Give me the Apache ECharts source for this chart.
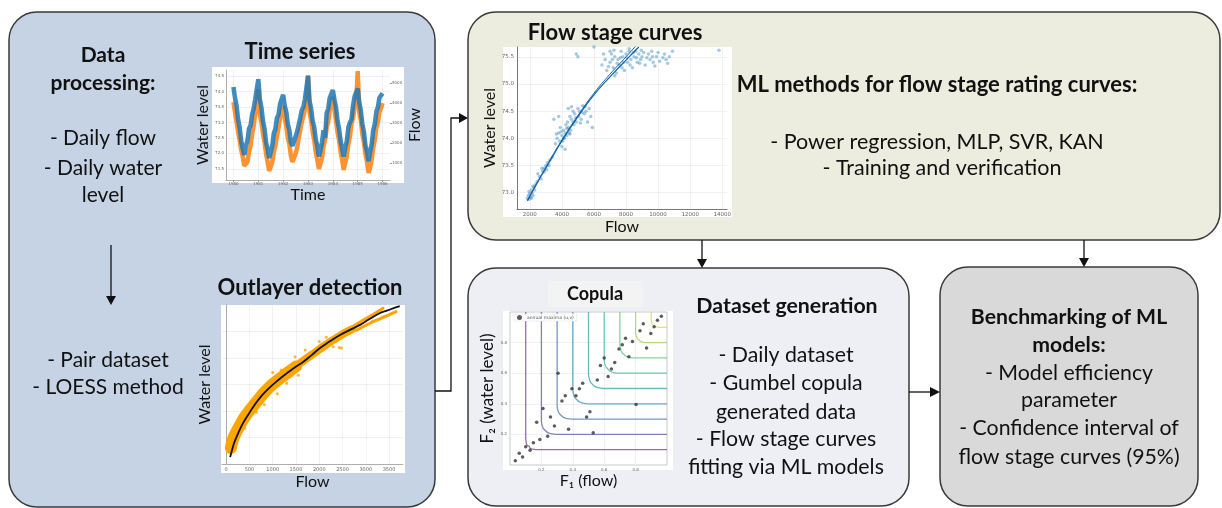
<!DOCTYPE html>
<html>
<head>
<meta charset="utf-8">
<title>Flow stage workflow</title>
<script src="https://cdn.jsdelivr.net/npm/echarts@6/dist/echarts.min.js"></script>
<style>
  html, body { margin: 0; padding: 0; background: #fff; }
  #chart-container { width: 1222px; height: 508px; }
</style>
</head>
<body>
<div id="chart-container"></div>
<script>
// ---- time series (16 samples per year, 1980 -> 1986) ----
const tsStartYear = 1980;
const tsStepsPerYear = 16;
const tsYearTicks = [1980, 1981, 1982, 1983, 1984, 1985, 1986];
const tsLevelTicks = [71.5, 72.0, 72.5, 73.0, 73.5, 74.0, 74.5];
const tsFlowTicks = [1000, 2000, 3000, 4000, 5000];
const tsWaterLevel = [
  74.15, 73.8, 73.55, 73.1, 72.85, 72.4, 72.15, 71.95, 72.25, 72.4, 72.8, 72.9, 73.25, 73.45, 73.75, 73.8,
  74.4, 73.75, 73.5, 73.05, 72.8, 72.35, 72.15, 71.85, 72.05, 72.25, 72.65, 72.8, 73.15, 73.25, 73.6, 73.65,
  73.9, 73.55, 73.35, 72.95, 72.75, 72.35, 72.25, 72.2, 72.55, 72.7, 72.75, 73.15, 73.4, 73.5, 73.75, 73.75,
  74.5, 73.7, 73.45, 73.05, 72.85, 72.45, 72.25, 71.9, 72.1, 72.35, 72.75, 72.5, 73.3, 73.45, 73.8, 73.85,
  74.05, 73.75, 73.5, 73.05, 72.8, 72.4, 72.15, 71.9, 72.2, 72.4, 72.85, 73.0, 73.1, 73.55, 73.85, 73.9,
  74.1, 73.65, 73.4, 72.95, 72.7, 72.25, 72.05, 71.75, 72.05, 72.3, 72.75, 72.95, 73.35, 73.5, 73.8, 73.85,
  73.95
];
const tsFlow = [
  4050, 3550, 3050, 2550, 2150, 1650, 1300, 850, 850, 1050, 1550, 1850, 2450, 2850, 3450, 3850,
  4700, 3450, 3050, 2450, 2050, 1450, 1050, 600, 800, 1050, 1550, 1850, 2350, 2750, 3250, 3550,
  3850, 3250, 2850, 2250, 1950, 1350, 1050, 1050, 1450, 1750, 2250, 2650, 3050, 3350, 3650, 3850,
  5400, 3550, 3150, 2550, 2150, 1550, 1150, 700, 950, 1250, 1850, 2150, 2750, 3050, 3650, 3950,
  4300, 3650, 3150, 2550, 2150, 1550, 1150, 650, 1000, 1350, 1950, 2350, 2950, 3250, 3750, 3950,
  5600, 3550, 3150, 2450, 2050, 1450, 1050, 500, 750, 1150, 1750, 2150, 2750, 3050, 3550, 3750,
  4000
];

// ---- outlier detection (pair dataset + LOESS) ----
const odFlowTicks = [0, 500, 1000, 1500, 2000, 2500, 3000, 3500];
const odLevelTicks = [1, 2, 3, 4, 5];
const loessFlow = [86, 150, 193, 280, 365, 470, 580, 750, 944, 1120, 1309, 1480, 1652, 1830, 2017, 2230, 2446, 2660, 2876, 3090, 3305, 3470, 3627, 3730];
const loessLevel = [0.26, 0.68, 0.9, 1.25, 1.55, 1.85, 2.15, 2.55, 2.9, 3.17, 3.43, 3.65, 3.85, 4.1, 4.38, 4.63, 4.87, 5.06, 5.25, 5.48, 5.7, 5.8, 5.9, 5.96];
const pairLowFlow = [100, 150, 200, 300, 400, 550, 700, 900, 1100, 1300, 1500];
const pairLowLevel = [0.6, 0.95, 1.15, 1.48, 1.78, 2.12, 2.45, 2.85, 3.15, 3.42, 3.68];
const pairMidFlow = [1500, 1700, 1900, 2100, 2300, 2500, 2700];
const pairMidLevel = [3.68, 3.95, 4.2, 4.45, 4.68, 4.9, 5.08];
const pairUpperFlow = [2600, 2850, 3100, 3370];
const pairUpperLevel = [5.05, 5.33, 5.58, 5.88];
const pairLowerFlow = [2800, 3050, 3300, 3500, 3650];
const pairLowerLevel = [5.05, 5.28, 5.48, 5.63, 5.75];
const pairOutliers = [
  [1000, 3.45], [1180, 3.55], [1480, 4.05], [1700, 4.3], [2430, 4.4], [2480, 4.38], [2300, 4.42],
  [650, 1.95], [820, 2.25], [2000, 4.62], [2150, 4.78], [1100, 2.65], [400, 1.35], [1300, 3.05], [760, 2.75],
  [3150, 5.4], [1550, 3.35]
];

// ---- flow stage curves ----
const fsFlowTicks = [2000, 4000, 6000, 8000, 10000, 12000, 14000];
const fsLevelTicks = [73.0, 73.5, 74.0, 74.5, 75.0, 75.5];
const fsObserved = [
  [1850, 72.9], [1900, 72.95], [1950, 72.88], [2000, 72.98], [2050, 72.92], [2100, 73.05], [2150, 73.0],
  [2200, 72.95], [2250, 73.1], [2300, 73.05], [2350, 73.15], [2200, 73.12], [2450, 73.2], [2600, 73.3],
  [2700, 73.25], [2800, 73.4], [2900, 73.45], [3000, 73.5], [3050, 73.42], [3100, 73.55], [3200, 73.5],
  [3250, 73.6], [2500, 73.35], [2750, 73.45], [3400, 73.65], [1950, 73.02], [2100, 72.9], [2900, 73.38],
  [3500, 74.35], [3600, 73.9], [3700, 74.0], [3800, 74.1], [3850, 73.95], [3900, 74.2], [4000, 74.05],
  [4050, 73.95], [4100, 74.15], [4150, 74.0], [4200, 74.1], [4250, 74.25], [4300, 74.05], [4350, 74.3],
  [4400, 74.2], [4450, 74.1], [4500, 74.4], [4550, 74.15], [4600, 74.35], [4700, 74.5], [4750, 74.25],
  [4800, 74.45], [4900, 74.3], [5000, 74.55], [5050, 74.4], [5100, 74.5], [5200, 74.35], [5300, 74.6],
  [5400, 74.45], [5500, 74.5], [5600, 74.3], [5700, 74.55], [5800, 74.4], [4400, 74.55], [4600, 74.58],
  [3800, 74.4], [5900, 74.2], [4000, 73.85], [4200, 73.8], [3950, 74.12], [4100, 74.0], [4300, 74.18],
  [4500, 74.08], [4700, 74.3], [4850, 74.38], [5150, 74.28], [5250, 74.48], [5450, 74.58], [3650, 74.08],
  [4900, 75.55], [5000, 75.5], [6000, 75.68], [6500, 75.35], [6700, 75.45], [6800, 75.25], [7000, 75.4],
  [7100, 75.55], [7200, 75.3], [7300, 75.5], [7400, 75.2], [7500, 75.45], [7600, 75.35], [7700, 75.6],
  [7800, 75.5], [7900, 75.25], [8000, 75.55], [8100, 75.4], [8200, 75.6], [8300, 75.45], [8400, 75.3],
  [8500, 75.5], [8600, 75.6], [8700, 75.4], [8800, 75.55], [8900, 75.45], [9000, 75.5], [9200, 75.35],
  [9400, 75.55], [9500, 75.45], [9700, 75.4], [9900, 75.5], [10100, 75.42], [10300, 75.48], [10500, 75.45],
  [10700, 75.5], [10900, 75.6], [8200, 75.65], [7000, 75.6], [13800, 75.62], [7300, 75.15], [9600, 75.6],
  [6900, 75.32], [7150, 75.45], [7450, 75.38], [7650, 75.48], [7850, 75.4], [8050, 75.48], [8250, 75.35],
  [8450, 75.58], [8650, 75.48], [8850, 75.38], [9100, 75.58], [9300, 75.48], [9800, 75.33], [10000, 75.58],
  [10400, 75.55], [10600, 75.38], [6600, 75.55], [7250, 75.62], [7750, 75.3], [8950, 75.62], [9650, 75.5]
];
const fsFitFlow = [1850, 2500, 3000, 4000, 5000, 6000, 7000, 8000, 8800];
const fsFitLevelA = [72.85, 73.2, 73.45, 73.95, 74.4, 74.8, 75.13, 75.44, 75.68];
const fsFitLevelB = [72.86, 73.21, 73.47, 73.97, 74.42, 74.83, 75.18, 75.5, 75.76];

// ---- copula ----
const cpTicks = [0.2, 0.4, 0.6, 0.8];
const cpLevels = [0.1, 0.2, 0.3, 0.4, 0.5, 0.6, 0.7, 0.8, 0.9];
const cpColors = ['#7a4a9a', '#6466a8', '#5380b2', '#4a95b6', '#45a9b0', '#4cbaa0', '#6cc785', '#a0d362', '#dcdf45'];
const cpContours = [
  [[0.1, 1], [0.1, 0.18], [0.1035, 0.145], [0.11, 0.127], [0.1224, 0.1224], [0.127, 0.11], [0.145, 0.1035], [0.18, 0.1], [1, 0.1]],
  [[0.2, 1], [0.2, 0.29], [0.2045, 0.259], [0.213, 0.238], [0.2252, 0.2252], [0.238, 0.213], [0.259, 0.2045], [0.29, 0.2], [1, 0.2]],
  [[0.3, 1], [0.3, 0.39], [0.3045, 0.359], [0.313, 0.338], [0.3252, 0.3252], [0.338, 0.313], [0.359, 0.3045], [0.39, 0.3], [1, 0.3]],
  [[0.4, 1], [0.4, 0.495], [0.405, 0.462], [0.414, 0.44], [0.4266, 0.4266], [0.44, 0.414], [0.462, 0.405], [0.495, 0.4], [1, 0.4]],
  [[0.5, 1], [0.5, 0.595], [0.505, 0.562], [0.514, 0.54], [0.5266, 0.5266], [0.54, 0.514], [0.562, 0.505], [0.595, 0.5], [1, 0.5]],
  [[0.6, 1], [0.6, 0.69], [0.6045, 0.659], [0.613, 0.638], [0.6252, 0.6252], [0.638, 0.613], [0.659, 0.6045], [0.69, 0.6], [1, 0.6]],
  [[0.7, 1], [0.7, 0.785], [0.7043, 0.756], [0.712, 0.736], [0.7238, 0.7238], [0.736, 0.712], [0.756, 0.7043], [0.785, 0.7], [1, 0.7]],
  [[0.8, 1], [0.8, 0.87], [0.8035, 0.8455], [0.81, 0.829], [0.8196, 0.8196], [0.829, 0.81], [0.8455, 0.8035], [0.87, 0.8], [1, 0.8]],
  [[0.9, 1], [0.9, 0.95], [0.9025, 0.9325], [0.907, 0.921], [0.914, 0.914], [0.921, 0.907], [0.9325, 0.9025], [0.95, 0.9], [1, 0.9]]
];
const cpAnnualMaxima = [
  [0.034, 0.028], [0.059, 0.076], [0.08, 0.052], [0.10, 0.12], [0.128, 0.097], [0.149, 0.145], [0.17, 0.28],
  [0.19, 0.167], [0.21, 0.37], [0.24, 0.188], [0.258, 0.314], [0.283, 0.255], [0.306, 0.60], [0.331, 0.418],
  [0.352, 0.452], [0.373, 0.234], [0.394, 0.498], [0.42, 0.452], [0.442, 0.498], [0.463, 0.535], [0.488, 0.314],
  [0.509, 0.348], [0.53, 0.21], [0.556, 0.556], [0.576, 0.65], [0.60, 0.70], [0.625, 0.578], [0.646, 0.628],
  [0.667, 0.67], [0.694, 0.758], [0.715, 0.786], [0.736, 0.829], [0.757, 0.708], [0.78, 0.807], [0.803, 0.396],
  [0.828, 0.877], [0.849, 0.924], [0.87, 0.764], [0.897, 0.859], [0.918, 0.903], [0.939, 0.946], [0.964, 0.972]
];

const FONT = 'Lato, "Open Sans", sans-serif';

document.addEventListener('DOMContentLoaded', () => {
  const chart = echarts.init(document.getElementById('chart-container'), null, { renderer: 'canvas' });

  const zip = (xs, ys) => xs.map((x, i) => [x, ys[i]]);
  const tsPoints = vals => vals.map((v, i) => [tsStartYear + i / tsStepsPerYear, v]);
  const plain = v => String(v);

  const tiny = { fontSize: 5, color: '#666', fontFamily: 'DejaVu Sans' };
  const faintSplit = { show: true, lineStyle: { color: '#e8e8e8', width: 0.6 } };
  const greyLine = { show: true, lineStyle: { color: '#999', width: 0.8 } };
  const axisName = { fontSize: 16, color: '#111', fontFamily: FONT };

  // boxes, white chart panels, arrows and text blocks
  const box = (x, y, w, h, fill) => ({
    type: 'rect', z: -20, shape: { x, y, width: w, height: h, r: 28 },
    style: { fill, stroke: '#3a3a3a', lineWidth: 1.5 }
  });
  const panel = (x, y, w, h, fill) => ({
    type: 'rect', z: -10, shape: { x, y, width: w, height: h },
    style: { fill: fill || '#fff' }
  });
  const txt = (x, y, text, size, bold) => ({
    type: 'text', z: 20, x, y,
    style: {
      text, fill: '#111', fontSize: size, fontWeight: bold ? 'bold' : 'normal',
      fontFamily: FONT, align: 'center', verticalAlign: 'middle'
    }
  });
  const line = pts => ({
    type: 'polyline', z: 20, shape: { points: pts },
    style: { stroke: '#111', lineWidth: 1.3, fill: null }
  });
  const head = pts => ({ type: 'polygon', z: 20, shape: { points: pts }, style: { fill: '#111' } });

  const graphics = [
    box(9, 12, 426, 495, '#C5D3E5'),
    box(468, 12, 752, 228, '#ECECDF'),
    box(468, 268, 441, 238, '#EEEEF5'),
    box(940, 267, 258, 239, '#D9D9D9'),
    panel(212, 67, 192, 116),
    panel(221, 305, 184, 168),
    panel(503, 47, 229, 170),
    panel(503, 311, 170, 159),
    panel(548, 281, 95, 26, '#F3F3F3'),

    line([[111, 245], [111, 298]]), head([[106, 296], [116, 296], [111, 305]]),
    line([[435, 391], [451, 391], [451, 118], [460, 118]]), head([[459, 113], [459, 123], [468, 118]]),
    line([[702, 240], [702, 260]]), head([[697, 259], [707, 259], [702, 268]]),
    line([[1084, 240], [1084, 259]]), head([[1079, 258], [1089, 258], [1084, 267]]),
    line([[909, 392], [931, 392]]), head([[930, 387], [930, 397], [940, 392]]),

    txt(103, 55, 'Data', 21, true),
    txt(103, 83, 'processing:', 21, true),
    txt(103, 138, '- Daily flow', 21),
    txt(103, 168, '- Daily water', 21),
    txt(103, 195, 'level', 21),
    txt(108, 360, '- Pair dataset', 21),
    txt(108, 387, '- LOESS method', 21),
    txt(300, 52, 'Time series', 22, true),
    txt(310, 288, 'Outlayer detection', 22, true),
    txt(615, 33, 'Flow stage curves', 22, true),
    txt(937, 85, 'ML methods for flow stage rating curves:', 22, true),
    txt(937, 142, '- Power regression, MLP, SVR, KAN', 21.5),
    txt(942, 168, '- Training and verification', 21.5),
    txt(595, 294, 'Copula', 18, true),
    txt(787, 306, 'Dataset generation', 21.3, true),
    txt(786, 355, '- Daily dataset', 21.3),
    txt(786, 383, '- Gumbel copula', 21.3),
    txt(786, 412, 'generated data', 21.3),
    txt(786, 439, '- Flow stage curves', 21.3),
    txt(786, 467, 'fitting via ML models', 21.3),
    txt(1069, 317, 'Benchmarking of ML', 21.2, true),
    txt(1069, 345, 'models:', 21.2, true),
    txt(1069, 373, '- Model efficiency', 21.3),
    txt(1069, 400, 'parameter', 21.3),
    txt(1069, 428, '- Confidence interval of', 21.3),
    txt(1069, 457, 'flow stage curves (95%)', 21.3)
  ];

  const option = {
    animation: false,
    textStyle: { fontFamily: FONT },
    graphic: { elements: graphics },
    legend: {
      data: ['annual maxima (u,v)'], left: 514, top: 314, padding: [1, 3],
      itemWidth: 5, itemHeight: 5, itemGap: 2,
      backgroundColor: '#fff', borderColor: '#ddd', borderWidth: 0.5,
      textStyle: { fontSize: 4.5, color: '#555', fontFamily: 'DejaVu Sans' }
    },
    grid: [
      { left: 226, top: 70, width: 164, height: 110 },
      { left: 222, top: 305, width: 181, height: 159 },
      { left: 517, top: 47, width: 210, height: 162 },
      { left: 510, top: 312, width: 157, height: 153, show: true, borderColor: '#bbb', borderWidth: 0.8, backgroundColor: 'transparent' }
    ],
    xAxis: [
      {
        gridIndex: 0, type: 'value', min: 1979.7, max: 1986.3,
        name: 'Time', nameLocation: 'middle', nameGap: -1, nameTextStyle: axisName,
        axisLine: greyLine, splitLine: faintSplit,
        axisTick: { show: true, length: 2, customValues: tsYearTicks, lineStyle: { color: '#999' } },
        axisLabel: { customValues: tsYearTicks, margin: 2, ...tiny, fontSize: 4, formatter: v => String(Math.round(v)) }
      },
      {
        gridIndex: 1, type: 'value', min: -90, max: 3800,
        name: 'Flow', nameLocation: 'middle', nameGap: 10, nameTextStyle: axisName,
        axisLine: greyLine, splitLine: faintSplit,
        axisTick: { show: false, customValues: odFlowTicks },
        axisLabel: { customValues: odFlowTicks, margin: 3, ...tiny, formatter: plain }
      },
      {
        gridIndex: 2, type: 'value', min: 1200, max: 14300,
        name: 'Flow', nameLocation: 'middle', nameGap: 5, nameTextStyle: axisName,
        axisLine: { show: true, lineStyle: { color: '#555', width: 0.8 } }, splitLine: faintSplit,
        axisTick: { show: false, customValues: fsFlowTicks },
        axisLabel: { customValues: fsFlowTicks, margin: 3, ...tiny, fontSize: 5.5, formatter: plain }
      },
      {
        gridIndex: 3, type: 'value', min: 0, max: 1,
        name: 'F\u2081 (flow)', nameLocation: 'middle', nameGap: 8, nameTextStyle: axisName,
        axisLine: { show: false }, splitLine: faintSplit,
        axisTick: { show: false, customValues: cpTicks },
        axisLabel: { customValues: cpTicks, margin: 3, ...tiny, fontSize: 4 }
      }
    ],
    yAxis: [
      {
        gridIndex: 0, type: 'value', min: 71.14, max: 74.7,
        name: 'Water level', nameLocation: 'middle', nameGap: 15, nameRotate: 90, nameTextStyle: axisName,
        axisLine: greyLine, splitLine: faintSplit,
        axisTick: { show: false, customValues: tsLevelTicks },
        axisLabel: { customValues: tsLevelTicks, margin: 2, ...tiny, fontSize: 4, formatter: v => v.toFixed(1) }
      },
      {
        gridIndex: 0, type: 'value', position: 'right', min: 140, max: 5660,
        name: 'Flow', nameLocation: 'middle', nameGap: 17, nameRotate: 90, nameTextStyle: axisName,
        axisLine: { show: false }, splitLine: { show: false },
        axisTick: { show: true, length: 2, customValues: tsFlowTicks, lineStyle: { color: '#999' } },
        axisLabel: { customValues: tsFlowTicks, margin: 2, ...tiny, fontSize: 4, formatter: plain }
      },
      {
        gridIndex: 1, type: 'value', min: 0, max: 6,
        name: 'Water level', nameLocation: 'middle', nameGap: 9, nameRotate: 90, nameTextStyle: axisName,
        axisLine: greyLine, splitLine: faintSplit,
        axisTick: { show: false, customValues: odLevelTicks },
        axisLabel: { show: false }
      },
      {
        gridIndex: 2, type: 'value', min: 72.7, max: 75.68,
        name: 'Water level', nameLocation: 'middle', nameGap: 17, nameRotate: 90, nameTextStyle: axisName,
        axisLine: { show: true, lineStyle: { color: '#555', width: 0.8 } }, splitLine: faintSplit,
        axisTick: { show: false, customValues: fsLevelTicks },
        axisLabel: { customValues: fsLevelTicks, margin: 3, ...tiny, fontSize: 5.5, formatter: v => v.toFixed(1) }
      },
      {
        gridIndex: 3, type: 'value', min: 0, max: 1,
        name: 'F\u2082 (water level)', nameLocation: 'middle', nameGap: 14, nameRotate: 90,
        nameTextStyle: { ...axisName, fontSize: 17 },
        axisLine: { show: false }, splitLine: faintSplit,
        axisTick: { show: false, customValues: cpTicks },
        axisLabel: { customValues: cpTicks, margin: 3, ...tiny, fontSize: 4 }
      }
    ],
    series: [
      // time series
      {
        name: 'Flow series', type: 'line', xAxisIndex: 0, yAxisIndex: 1, data: tsPoints(tsFlow),
        showSymbol: false, lineStyle: { color: '#ff7f0e', width: 4.5, opacity: 0.85 }, z: 3
      },
      {
        name: 'Water level series', type: 'line', xAxisIndex: 0, yAxisIndex: 0, data: tsPoints(tsWaterLevel),
        showSymbol: false, lineStyle: { color: '#1f77b4', width: 4.5, opacity: 0.85 }, z: 4
      },
      // outlier detection
      {
        name: 'Pair low', type: 'line', xAxisIndex: 1, yAxisIndex: 2, data: zip(pairLowFlow, pairLowLevel),
        showSymbol: false, smooth: true, lineStyle: { color: '#FFA500', width: 12, cap: 'round' }, z: 3
      },
      {
        name: 'Pair mid', type: 'line', xAxisIndex: 1, yAxisIndex: 2, data: zip(pairMidFlow, pairMidLevel),
        showSymbol: false, smooth: true, lineStyle: { color: '#FFA500', width: 8, cap: 'round' }, z: 3
      },
      {
        name: 'Pair upper', type: 'line', xAxisIndex: 1, yAxisIndex: 2, data: zip(pairUpperFlow, pairUpperLevel),
        showSymbol: false, smooth: true, lineStyle: { color: '#FFA500', width: 3, cap: 'round' }, z: 3
      },
      {
        name: 'Pair lower', type: 'line', xAxisIndex: 1, yAxisIndex: 2, data: zip(pairLowerFlow, pairLowerLevel),
        showSymbol: false, smooth: true, lineStyle: { color: '#FFA500', width: 3, cap: 'round' }, z: 3
      },
      {
        name: 'Pair outliers', type: 'scatter', xAxisIndex: 1, yAxisIndex: 2, data: pairOutliers,
        symbolSize: 3, itemStyle: { color: '#FFA500' }, z: 3
      },
      {
        name: 'LOESS', type: 'line', xAxisIndex: 1, yAxisIndex: 2, data: zip(loessFlow, loessLevel),
        showSymbol: false, smooth: true, lineStyle: { color: '#111', width: 1.8 }, z: 5
      },
      // flow stage curves
      {
        name: 'Observed', type: 'scatter', xAxisIndex: 2, yAxisIndex: 3, data: fsObserved,
        symbolSize: 3.5, itemStyle: { color: '#1f77b4', opacity: 0.4 }, z: 3
      },
      {
        name: 'Fit A', type: 'line', xAxisIndex: 2, yAxisIndex: 3, data: zip(fsFitFlow, fsFitLevelA),
        showSymbol: false, smooth: true, lineStyle: { color: '#1565a8', width: 1.2 }, z: 4
      },
      {
        name: 'Fit B', type: 'line', xAxisIndex: 2, yAxisIndex: 3, data: zip(fsFitFlow, fsFitLevelB),
        showSymbol: false, smooth: true, lineStyle: { color: '#1565a8', width: 1 }, z: 4
      },
      // copula contours
      ...cpContours.map((pts, i) => ({
        name: 'C = ' + cpLevels[i], type: 'line', xAxisIndex: 3, yAxisIndex: 4, data: pts,
        showSymbol: false, smooth: 0.3, lineStyle: { color: cpColors[i], width: 1.3, opacity: 0.8 }, z: 3
      })),
      {
        name: 'annual maxima (u,v)', type: 'scatter', xAxisIndex: 3, yAxisIndex: 4, data: cpAnnualMaxima,
        symbol: 'circle', symbolSize: 3.5, itemStyle: { color: '#333' }, z: 5
      }
    ]
  };

  try {
    chart.setOption(option);
  } catch (err) {
    console.error('Error rendering chart:', err);
  }
});
</script>
</body>
</html>
